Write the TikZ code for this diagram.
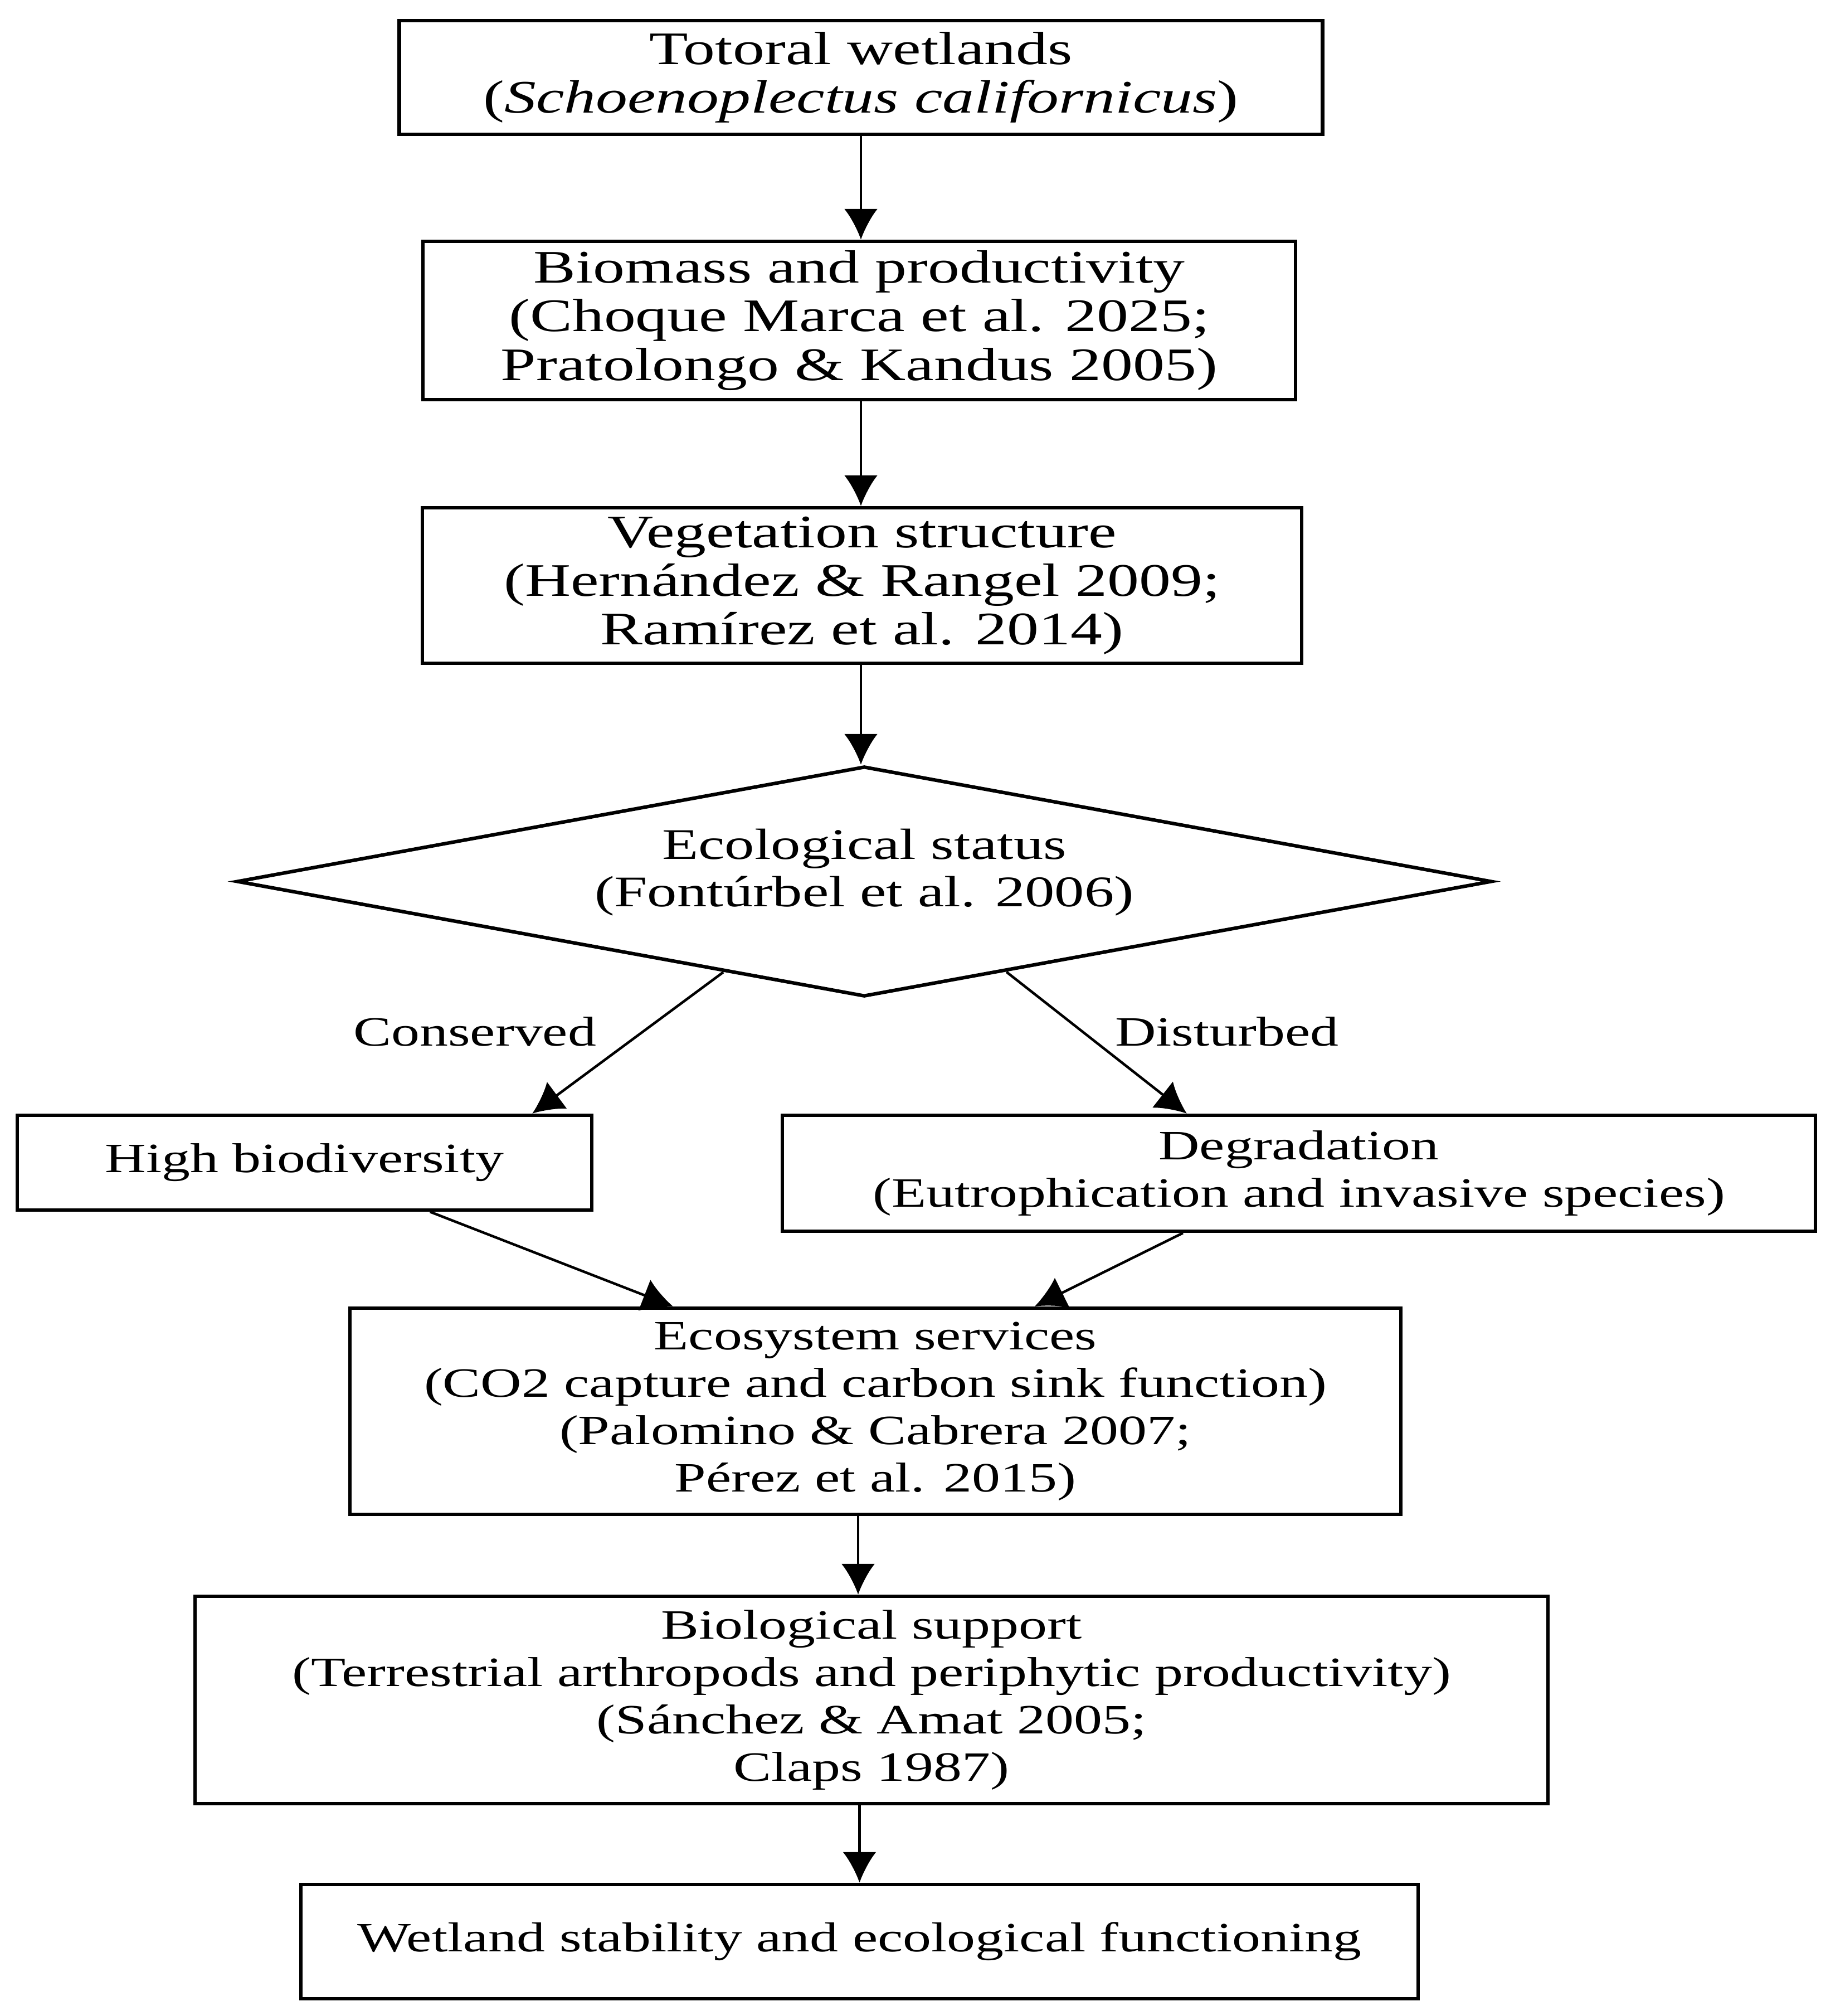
\documentclass[tikz,border=0pt]{standalone}
\usepackage{fontspec}
\setmainfont{Liberation Serif}[FakeStretch=1.36]
\usepackage{tikz}
\usetikzlibrary{calc}
\usetikzlibrary{arrows.meta}
\usetikzlibrary{shapes.geometric}
\tikzset{>={Latex[length=5.5mm,width=6mm]}}
\tikzset{caja/.style={draw,line width=1.8pt,align=center,inner sep=0pt}}
\tikzset{flecha/.style={->,line width=1.3pt}}
\newcommand{\grande}{\fontsize{23.8pt}{24.8pt}\selectfont}

\begin{document}
\begin{tikzpicture}[font=\fontsize{21.3pt}{24.2pt}\selectfont]
	\useasboundingbox (0,0) rectangle (32.68,-36.17);
	\node[caja,font=\grande,minimum width=16.57cm,minimum height=2.04cm] (wet) at (15.45,-1.39) {Totoral wetlands\\(\textit{Schoenoplectus californicus})};
	\node[caja,font=\grande,minimum width=15.66cm,minimum height=2.84cm] (bio) at (15.42,-5.75) {Biomass and productivity\\(Choque Marca et al. 2025;\\Pratolongo \& Kandus 2005)};
	\node[caja,font=\grande,minimum width=15.78cm,minimum height=2.79cm] (veg) at (15.47,-10.505) {Vegetation structure\\(Hernández \& Rangel 2009;\\Ramírez et al. 2014)};
	\node[caja,diamond,shape aspect=5.45,font=\fontsize{22.3pt}{24.2pt}\selectfont,text depth=0.5cm,minimum width=22.52cm,minimum height=4.13cm] (status) at (15.51,-15.815) {Ecological status\\(Fontúrbel et al. 2006)};
	\node[caja,minimum width=10.31cm,minimum height=1.70cm] (high) at (5.465,-20.86) {High biodiversity};
	\node[caja,minimum width=18.54cm,minimum height=2.08cm] (degr) at (23.31,-21.05) {Degradation\\(Eutrophication and invasive species)};
	\node[caja,minimum width=18.86cm,minimum height=3.70cm] (serv) at (15.71,-25.32) {Ecosystem services\\(CO2 capture and carbon sink function)\\(Palomino \& Cabrera 2007;\\Pérez et al. 2015)};
	\node[caja,minimum width=24.28cm,minimum height=3.72cm] (support) at (15.64,-30.50) {Biological support\\(Terrestrial arthropods and periphytic productivity)\\(Sánchez \& Amat 2005;\\Claps 1987)};
	\node[caja,minimum width=20.05cm,minimum height=2.05cm] (stab) at (15.425,-34.835) {Wetland stability and ecological functioning};
	\draw[flecha] (wet) -- (wet |- bio.north);
	\draw[flecha] (bio.south -| wet) -- (wet |- veg.north);
	\draw[flecha] (veg.south -| wet) -- (wet |- status.north);
	\draw[flecha] ($(status.west)!0.776!(status.south)$) -- node[pos=0.42,left=0.7cm]{Conserved} ($(high.north west)!0.894!(high.north east)$);
	\draw[flecha] ($(status.east)!0.774!(status.south)$) -- node[pos=0.42,right=0.45cm]{Disturbed} ($(degr.north west)+(7.29,0)$);
	\draw[flecha] ($(high.south west)+(7.44,0)$) -- ($(serv.north west)+(5.83,0)$);
	\draw[flecha] ($(degr.south west)+(7.22,0)$) -- ($(serv.north west)+(12.32,0)$);
	\draw[flecha] (serv.south -| 15.40,0) -- (support.north -| 15.40,0);
	\draw[flecha] (support.south -| stab) -- (stab);
\end{tikzpicture}
\end{document}
